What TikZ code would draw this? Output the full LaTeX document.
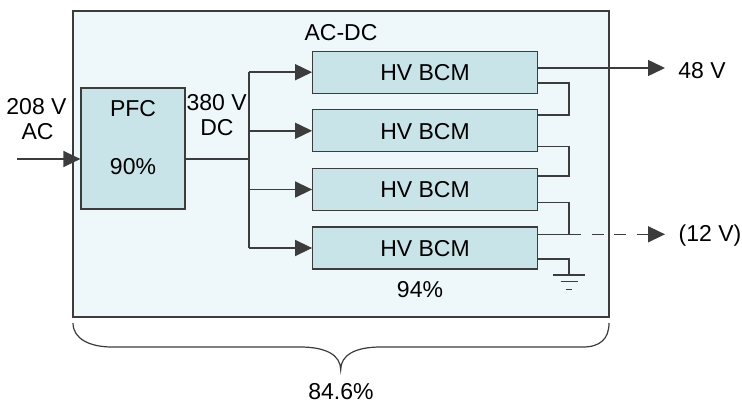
\documentclass[tikz,border=0pt]{standalone}
\usepackage{fontspec}
\setmainfont{Liberation Sans}
\usetikzlibrary{arrows.meta,calc}
\definecolor{linec}{RGB}{60,60,60}
\definecolor{outerfill}{RGB}{238,247,250}
\definecolor{boxfill}{RGB}{200,228,232}
\begin{document}
\begin{tikzpicture}[x=1pt,y=-1pt,
  font=\fontsize{23}{27}\selectfont,
  lbl/.style={inner sep=0pt, text height=16.5pt, text depth=0pt},
  outerbox/.style={draw=linec, fill=outerfill, line width=1.2pt, inner sep=0pt, minimum width=536pt, minimum height=306pt},
  block/.style={draw=linec, fill=boxfill, line width=1.2pt, inner sep=0pt, text height=16.5pt, text depth=0pt},
  bcm/.style={block, minimum width=224.6pt, minimum height=42pt},
  wire/.style={draw=linec, line width=1.5pt},
  arr/.style={wire, -{Triangle[length=17pt,width=16pt]}}]
\useasboundingbox (0,0) rectangle (742,403);
\node[outerbox] (acdc) at (341,164) {};
\node[lbl] (acdclbl) at (341,32) {AC-DC};
\node[block, minimum width=104pt, minimum height=121pt] (pfc) at (133,148.5) {};
\node[lbl] (pfclbl) at (133,108) {PFC};
\node[lbl] (pfceff) at (133,166.5) {90\%};
\node[bcm] (b1) at (425,72.2) {HV BCM};
\node[bcm] (b2) at (425,130.8) {HV BCM};
\node[bcm] (b3) at (425,189.5) {HV BCM};
\node[bcm] (b4) at (425,248) {HV BCM};
\node[lbl] (eff94) at (420,289.5) {94\%};
\node[lbl] (t208) at (36.5,106) {208 V};
\node[lbl] (tac) at (37.5,131.5) {AC};
\node[lbl] (t380) at (216.7,102) {380 V};
\node[lbl] (tdc) at (217,127.5) {DC};
\node[lbl] (t48) at (702,70) {48 V};
\node[lbl] (t12) at (710,233) {(12 V)};
\node[lbl] (tot) at (341,391) {84.6\%};
\coordinate (in) at (17,159);
\coordinate (bm) at (249,159);
\coordinate (bt) at (249,72.2);
\coordinate (bb) at (249,248);
\coordinate (o48) at (665,68);
\coordinate (s1) at (569,83);
\coordinate (s2) at (569,115);
\coordinate (s3) at (569,146.7);
\coordinate (s4) at (569,176);
\coordinate (s5) at (569,202.3);
\coordinate (s6) at (569,234.3);
\coordinate (o12) at (665,234.3);
\coordinate (g1) at (569,259);
\coordinate (g2) at (569,275);
\draw[arr] (in) -- (in -| pfc.west);
\draw[wire] (pfc.east |- bm) -- (bm);
\draw[wire] (bt) -- (bb);
\foreach \b in {b1,b2,b3,b4} \draw[arr] (bt |- \b.west) -- (\b.west);
\draw[arr] (b1.east |- o48) -- (o48);
\draw[wire] (b1.east |- s1) -- (s1) -- (s2) -- (b2.east |- s2);
\draw[wire] (b2.east |- s3) -- (s3) -- (s4) -- (b3.east |- s4);
\draw[wire] (b3.east |- s5) -- (s5) -- (s6) -- (b4.east |- s6);
\draw[arr, dash pattern=on 12pt off 10.5pt] (s6) -- (o12);
\draw[wire] (b4.east |- g1) -- (g1) -- (g2);
\draw[wire] ($(g2)+(-16,0)$) -- ($(g2)+(16,0)$);
\draw[wire] ($(g2)+(-8.5,6.7)$) -- ($(g2)+(8.5,6.7)$);
\draw[wire] ($(g2)+(-3.3,14.3)$) -- ($(g2)+(3.3,14.3)$);
\draw[wire, line width=1.2pt] (73,323) .. controls (73,339) and (90,347) .. (112,347) -- (300,347)
  .. controls (326,347) and (340.7,355) .. (340.7,370)
  .. controls (340.7,355) and (355,347) .. (381,347) -- (583,347)
  .. controls (600,347) and (609,339) .. (609,323);
\end{tikzpicture}
\end{document}
